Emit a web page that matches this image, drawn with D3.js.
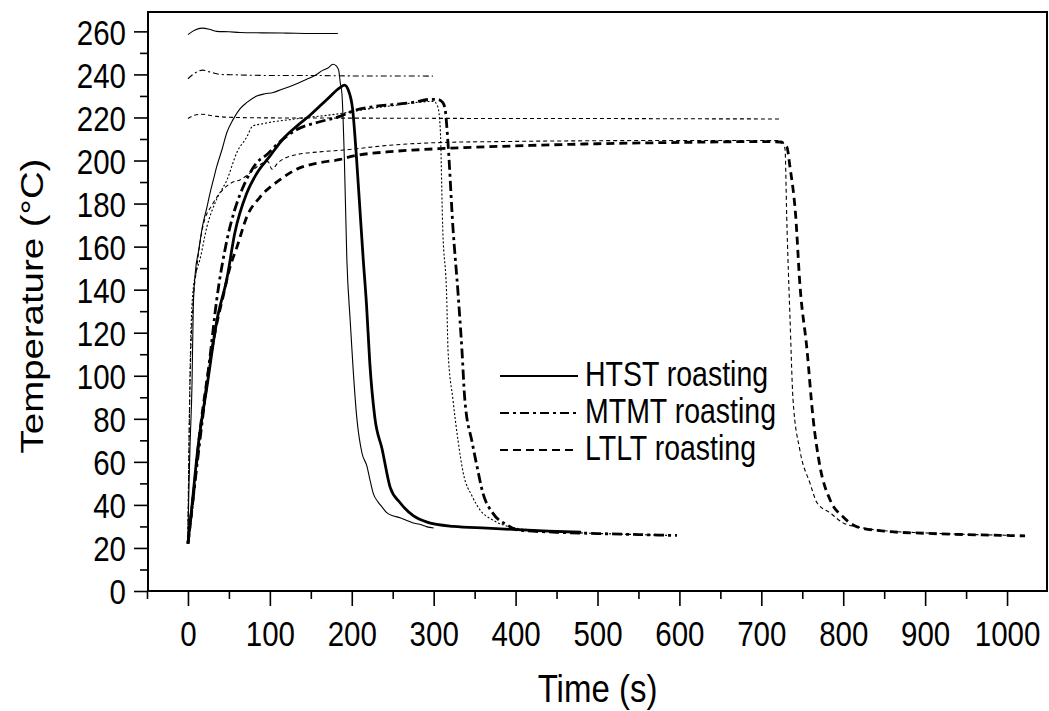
<!DOCTYPE html>
<html>
<head>
<meta charset="utf-8">
<script src="https://cdn.jsdelivr.net/npm/d3@7"></script>
<style>
  html, body { margin: 0; padding: 0; background: #fff; }
  svg { display: block; font-family: "Liberation Sans", Arial, Helvetica, sans-serif; }
</style>
</head>
<body>
<svg id="chart" width="1049" height="711"></svg>
<script>
// Roasting temperature profiles: time in s, temperature in °C
// HTST (high temperature, short time)
const htstBeanTime = [0,5,12,24,35,48,57,72,84,100,116,133,149,170,186,191,196,201,206,210,214,218,222,228,237,247,259,275,292,324,365,402,440,480];
const htstBeanTemp = [22,40,66,97,125,146,166,185,194,202,210,216,221,228.5,234,235,232.5,224,200,177,154,133,106,81,66,48,41,35,32,30,29.2,28.5,27.8,27.3];
const htstAirTime = [0,1,2.5,5,6.5,9,13,18,23,27,31,35,41.5,47.5,55,63.5,72,84,94,104,114,124.5,135,145,155,165,171,177,181,184,186,188,191,194,198,201.5,206,212.5,218.5,222,226,232,237,243,250,259,267,275,283,292,300];
const htstAirTemp = [25,45,67,97,132,148,158,170,178,185,191,197,205,213,219,224,227,230,231,231.6,233,234.4,236,237.7,239.5,242,243,244.7,244,242,236,231,200,154,126,104,81,64,58,52,45.6,41.4,39,36.3,35,34,32.8,31.6,31,29.8,29.3];
const htstSetTime = [0,8,17,26,35,50,63.5,90,120,150,183];
const htstSetTemp = [258.5,260.5,261.5,261,260,259.8,259.5,259.3,259.2,259,259];

// MTMT (medium temperature, medium time)
const mtmtBeanTime = [0,6,14.6,27,35,47.6,57,66,76,88,94,110,133,161,185.5,201.5,226,250,275,295.5,305,311,314,317.5,323.5,329.7,334.5,338,347,353,360,372,389.5,402,450,500,550,597];
const mtmtBeanTemp = [22,42,70,109,135,163,177,186.5,194.4,200.5,202,208,214.4,218,220.5,223,225,226,227,228.4,228.4,227,223.7,208,169,138.6,112,89,69,57.7,45.6,36.3,30.7,28.4,27.3,26.7,26.2,25.8];
const mtmtAirTime = [0,1,3,6,10,14.6,23,35,47.6,60,72,79,90,104,125,145,170,189,220,250,280,300,305,308,311,316,317.5,323.5,329.7,336,347,356.5,372,393,430,480,540,590];
const mtmtAirTemp = [25,60,110,138.6,148,154,169,182,191,204,211,216,217,218,219,220,221,222,224,225.5,227,227.5,225,215,169,135,112,89,70,55,44,37.7,33,29.8,28,27,26.3,25.8];
const mtmtSetTime = [0,8,18,28,39,60,100,150,200,250,299];
const mtmtSetTemp = [238,240.5,242,241,240,239.8,239.5,239.5,239.3,239.3,239.2];

// LTLT (low temperature, long time)
const ltltBeanTime = [0,6,14,24,34,43,51,60,72,88,112,133,161,186,201,243,282,306,400,500,600,700,723,731,735,742,747,755.8,763,771.7,784,800,817,850,900,950,1000,1022];
const ltltBeanTemp = [22,42,72,100,122,137,150,160,174,183,191,196,199,200.5,202,204,205,205.5,206.8,207.8,208.4,208.8,208.6,206.5,197,174,143,112,81,57.7,42.3,34.4,29.8,27.8,26.8,26.2,25.8,25.6];
const ltltAirTime = [0,1,3,6,11,18,30.5,42.7,55,63.5,75,84,97.7,102.5,110,133,160,194,243,311,381,500,600,700,722,726.5,729,731,735,738.7,747,759.5,768,784,800,817,850,900,950,1000];
const ltltAirTemp = [25,60,105,132,151,169,180,186.5,190,191,194,197,199.5,196,199,202.8,204,205,207,208.4,208.8,209.2,209.3,209.3,209.2,208.4,205,174,127,89,65.6,50,41,36.3,31.6,29.8,28,27,26.3,25.9];
const ltltSetTime = [0,8,17,26,35,60,100,200,300,400,500,600,723];
const ltltSetTemp = [219.5,221,221.5,221,220.5,220,219.8,219.7,219.6,219.5,219.5,219.4,219.3];

// Axis ticks
const xMajorTicks = [0,100,200,300,400,500,600,700,800,900,1000];
const xMinorTicks = [-50,50,150,250,350,450,550,650,750,850,950];
const yMajorTicks = [0,20,40,60,80,100,120,140,160,180,200,220,240,260];
const yMinorTicks = [10,30,50,70,90,110,130,150,170,190,210,230,250];

const legendLabels = ["HTST roasting", "MTMT roasting", "LTLT roasting"];

// ---- layout ----
const plot = { left: 148, right: 1047, top: 12, bottom: 591 };
const textStretch = 1.2;

const svg = d3.select("#chart");
const x = d3.scaleLinear().domain([-50, 1050]).range([147, 1048]);
const y = d3.scaleLinear().domain([0, 269]).range([plot.bottom, plot.top]);

const zip = (ts, vs) => ts.map((t, i) => [t, vs[i]]);

const series = [
  { data: zip(htstSetTime, htstSetTemp),   width: 1.1, dash: null },
  { data: zip(mtmtSetTime, mtmtSetTemp),   width: 1.1, dash: "6,3,2,3" },
  { data: zip(ltltSetTime, ltltSetTemp),   width: 1.1, dash: "4,3" },
  { data: zip(htstAirTime, htstAirTemp),   width: 1.1, dash: null },
  { data: zip(mtmtAirTime, mtmtAirTemp),   width: 1.1, dash: "2,2" },
  { data: zip(ltltAirTime, ltltAirTemp),   width: 1.1, dash: "4,3" },
  { data: zip(htstBeanTime, htstBeanTemp), width: 2.8, dash: null },
  { data: zip(mtmtBeanTime, mtmtBeanTemp), width: 2.8, dash: "10,4,3,4" },
  { data: zip(ltltBeanTime, ltltBeanTemp), width: 2.8, dash: "8,5" }
];

const line = d3.line()
  .x(d => x(d[0]))
  .y(d => y(d[1]))
  .curve(d3.curveMonotoneX);

svg.append("g").selectAll("path")
  .data(series)
  .join("path")
  .attr("d", d => line(d.data))
  .attr("fill", "none")
  .attr("stroke", "#000")
  .attr("stroke-width", d => d.width)
  .attr("stroke-dasharray", d => d.dash)
  .attr("stroke-linejoin", "round");

// ---- axes ----
function styleAxis(g) {
  g.select(".domain").remove();
  g.selectAll(".tick line").attr("stroke", "#000").attr("stroke-width", 1.6);
}

svg.append("g")
  .attr("transform", `translate(0,${plot.bottom})`)
  .call(d3.axisBottom(x).tickValues(xMinorTicks).tickSize(8).tickFormat(""))
  .call(styleAxis);

const xAxis = svg.append("g")
  .attr("transform", `translate(0,${plot.bottom})`)
  .call(d3.axisBottom(x).tickValues(xMajorTicks).tickSize(15).tickFormat(d3.format("d")))
  .call(styleAxis);
xAxis.selectAll(".tick text")
  .attr("y", 0).attr("dy", "0.36em")
  .attr("transform", `translate(0,42) scale(1,${textStretch})`)
  .attr("font-size", 29.5)
  .attr("font-family", "Liberation Sans, Arial, sans-serif")
  .attr("fill", "#000");

svg.append("g")
  .attr("transform", `translate(${plot.left},0)`)
  .call(d3.axisLeft(y).tickValues(yMinorTicks).tickSize(8).tickFormat(""))
  .call(styleAxis);

const yAxis = svg.append("g")
  .attr("transform", `translate(${plot.left},0)`)
  .call(d3.axisLeft(y).tickValues(yMajorTicks).tickSize(14).tickFormat(d3.format("d")))
  .call(styleAxis);
yAxis.selectAll(".tick text")
  .attr("x", 0).attr("dy", "0.36em")
  .attr("transform", `translate(-22,0) scale(1,${textStretch})`)
  .attr("font-size", 29.5)
  .attr("font-family", "Liberation Sans, Arial, sans-serif")
  .attr("fill", "#000");

// plot frame
svg.append("rect")
  .attr("x", plot.left).attr("y", plot.top)
  .attr("width", plot.right - plot.left)
  .attr("height", plot.bottom - plot.top)
  .attr("fill", "none")
  .attr("stroke", "#000")
  .attr("stroke-width", 2);

// axis titles
svg.append("text")
  .attr("transform", `translate(${(plot.left + plot.right) / 2},688) scale(1,${textStretch})`)
  .attr("text-anchor", "middle")
  .attr("dy", "0.36em")
  .attr("font-size", 33)
  .text("Time (s)");

svg.append("text")
  .attr("transform", `translate(31,306) scale(1,${textStretch}) rotate(-90)`)
  .attr("text-anchor", "middle")
  .attr("dy", "0.36em")
  .attr("font-size", 32)
  .text("Temperature (°C)");

// ---- legend ----
const legendStyles = [
  { dash: null,       width: 2 },
  { dash: "9,4,3,4",  width: 2 },
  { dash: "8,5",      width: 2 }
];
const legend = svg.append("g");
legendLabels.forEach((label, i) => {
  const ly = 376 + i * 37;
  legend.append("line")
    .attr("x1", 500).attr("x2", 578)
    .attr("y1", ly).attr("y2", ly)
    .attr("stroke", "#000")
    .attr("stroke-width", legendStyles[i].width)
    .attr("stroke-dasharray", legendStyles[i].dash);
  legend.append("text")
    .attr("transform", `translate(585,${ly - 2}) scale(1,${textStretch})`)
    .attr("dy", "0.36em")
    .attr("font-size", 28.5)
    .text(label);
});
</script>
</body>
</html>
